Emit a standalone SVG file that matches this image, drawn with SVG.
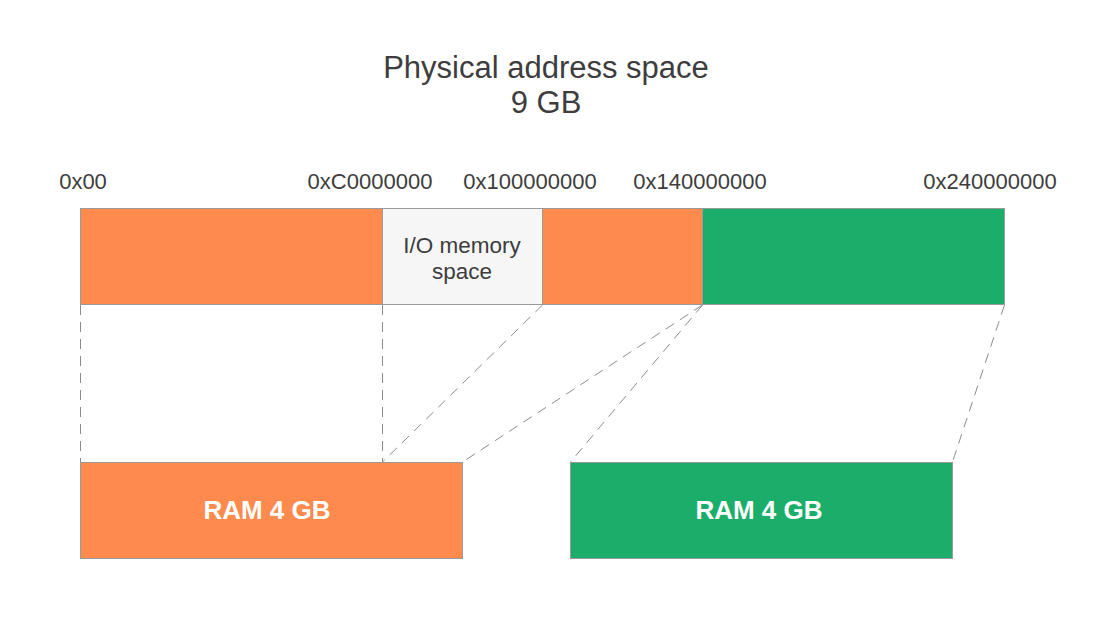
<svg xmlns="http://www.w3.org/2000/svg" width="1112" height="644" viewBox="0 0 1112 644">
<style>
text{font-family:"Liberation Sans",Arial,sans-serif;fill:#3d3d3d}
.t{font-size:31px;text-anchor:middle}
.a{font-size:22px;text-anchor:middle}
.io{font-size:22.5px;text-anchor:middle}
.ram{font-size:26px;font-weight:bold;fill:#fff;text-anchor:middle}
.or{fill:#FF8A4D;stroke:#9a9a9a;stroke-width:1}
.gr{fill:#1BAE6A;stroke:#9a9a9a;stroke-width:1}
.io-box{fill:#F6F6F6;stroke:#9a9a9a;stroke-width:1}
.c line{stroke:#8c8c8c;stroke-width:1;stroke-dasharray:10 7;fill:none}
</style>
<rect width="1112" height="644" fill="#fff"/>
<g id="title">
<text class="t" x="546" y="78">Physical address space</text>
<text class="t" x="546" y="113">9 GB</text>
</g>
<g id="addresses">
<text class="a" x="83" y="189">0x00</text>
<text class="a" x="370" y="189">0xC0000000</text>
<text class="a" x="530" y="189">0x100000000</text>
<text class="a" x="700" y="189">0x140000000</text>
<text class="a" x="990" y="189">0x240000000</text>
</g>
<g id="seg1"><rect class="or" x="80.5" y="208.5" width="302" height="96"/></g>
<g id="seg-io"><rect class="io-box" x="382.5" y="208.5" width="160" height="96"/>
<text class="io" x="462" y="253">I/O memory</text>
<text class="io" x="462" y="279">space</text></g>
<g id="seg2"><rect class="or" x="542.5" y="208.5" width="160" height="96"/></g>
<g id="seg3"><rect class="gr" x="702.5" y="208.5" width="302" height="96"/></g>
<g class="c" id="connectors">
<line x1="80.5" y1="305" x2="80.5" y2="462"/>
<line x1="382.5" y1="305" x2="382.5" y2="462"/>
<line x1="542.5" y1="305" x2="382.5" y2="462"/>
<line x1="702.5" y1="305" x2="462.5" y2="462"/>
<line x1="702.5" y1="305" x2="570.5" y2="462"/>
<line x1="1004.5" y1="305" x2="952.5" y2="462"/>
</g>
<g id="ram1"><rect class="or" x="80.5" y="462.5" width="382" height="96"/>
<text class="ram" x="267" y="519">RAM 4 GB</text></g>
<g id="ram2"><rect class="gr" x="570.5" y="462.5" width="382" height="96"/>
<text class="ram" x="759" y="519">RAM 4 GB</text></g>
</svg>
